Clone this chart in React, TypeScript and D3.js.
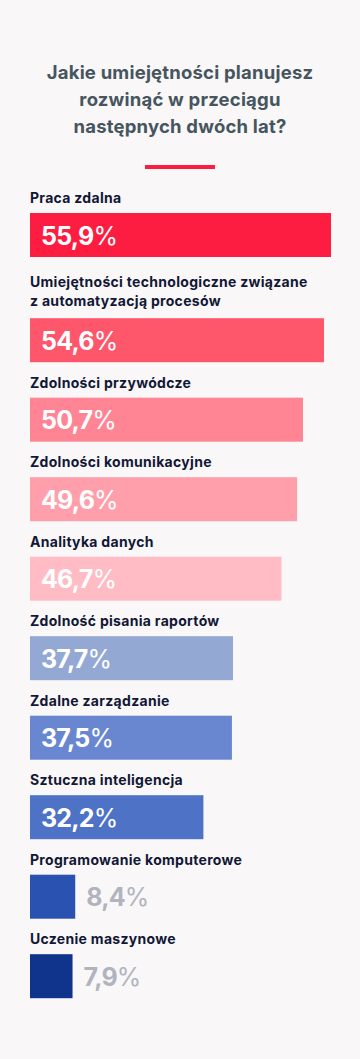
import React from "react";
import * as d3 from "d3";

const titleLines = ["Jakie umiejętności planujesz", "rozwinąć w przeciągu", "następnych dwóch lat?"];
const categories = [
  ["Praca zdalna"],
  ["Umiejętności technologiczne związane", "z automatyzacją procesów"],
  ["Zdolności przywódcze"],
  ["Zdolności komunikacyjne"],
  ["Analityka danych"],
  ["Zdolność pisania raportów"],
  ["Zdalne zarządzanie"],
  ["Sztuczna inteligencja"],
  ["Programowanie komputerowe"],
  ["Uczenie maszynowe"],
];
const values = [55.9, 54.6, 50.7, 49.6, 46.7, 37.7, 37.5, 32.2, 8.4, 7.9];
const valueLabels = ["55,9", "54,6", "50,7", "49,6", "46,7", "37,7", "37,5", "32,2", "8,4", "7,9"];
const colors = ["#fd1d40", "#fe566b", "#ff8595", "#ff9fab", "#ffbcc5", "#94a8d4", "#6887d0", "#4d72c6", "#2a52b0", "#10348b"];

const W = 360;
const H = 1059;
const FONT = "Inter, 'Noto Sans', sans-serif";

export default function App() {
  const x = d3.scaleLinear().domain([0, 55.9]).range([30, 331]);
  const barH = 44;
  const step = 79.5;
  const extraLine = 25.7;
  const tops: number[] = [];
  let t = 213;
  categories.forEach((c, i) => {
    if (i > 0) t += step + (c.length - 1) * extraLine;
    tops.push(t);
  });

  return (
    <svg width={W} height={H} style={{ position: "absolute", left: 0, top: 0, display: "block" }}>
      <rect width={W} height={H} fill="#f9f7f8" />
      {titleLines.map((l, i) => (
        <text key={i} x={180} y={79 + i * 27} textAnchor="middle" fontFamily={FONT} fontWeight={700} fontSize={18.5} letterSpacing={0.2} fill="#46555e">
          {l}
        </text>
      ))}
      <rect x={145} y={165} width={70} height={4} fill="#fd1d40" />
      {categories.map((lines, i) => {
        const top = tops[i];
        const w = x(values[i]) - x(0);
        const inside = w > 100;
        const n = lines.length;
        return (
          <g key={i}>
            {lines.map((l, k) => (
              <text key={k} x={30} y={top - 10 - (n - 1 - k) * 19 - (n > 1 ? 2 : 0)} fontFamily={FONT} fontWeight={700} fontSize={14} letterSpacing={0.3} fill="#121735">
                {l}
              </text>
            ))}
            <rect x={x(0)} y={top} width={w} height={barH} fill={colors[i]} />
            <text
              x={inside ? x(0) + 11 : x(values[i]) + 11}
              y={top + barH / 2 + 9.5}
              fontFamily={FONT}
              fontWeight={700}
              fontSize={25}
              letterSpacing={-0.8}
              fill={inside ? "#ffffff" : "#b1b4bf"}
            >
              {valueLabels[i]}
              <tspan fontWeight={400}>%</tspan>
            </text>
          </g>
        );
      })}
    </svg>
  );
}
